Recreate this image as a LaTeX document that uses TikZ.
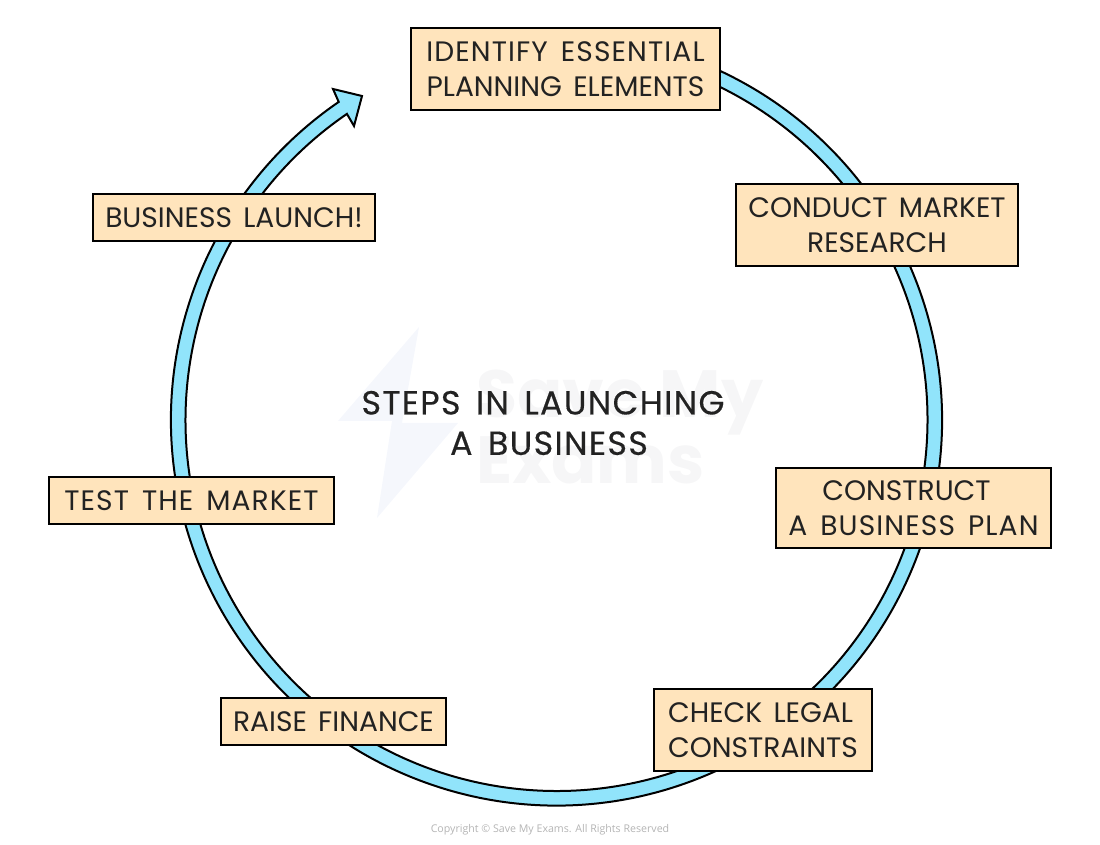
\documentclass[tikz,border=0pt]{standalone}
\usepackage{fontspec}
\setmainfont{Poppins}[WordSpace=1.5]
\newfontfamily\widefont{Poppins}[WordSpace=1.5, LetterSpace=4]
\newfontfamily\titlefont{Poppins}[WordSpace=1.5, LetterSpace=4, FakeBold=.35]
\newfontfamily\markfont{Poppins}
\newfontfamily\smallfont{Open Sans}
\definecolor{boxfill}{HTML}{FFE4BC}
\definecolor{ringblue}{HTML}{91E4FB}
\definecolor{inkdark}{HTML}{222222}
\definecolor{markgrey}{HTML}{F6F6F7}
\definecolor{markblue}{HTML}{F5F7FC}
\definecolor{copygrey}{HTML}{B4B4B4}
\tikzset{
    stepbox/.style={draw=black, fill=boxfill, line width=.032cm, inner sep=0pt, align=center,
        text=inkdark, font=\fontsize{16}{20}\selectfont},
    ringshape/.style={draw=black, fill=ringblue, line width=.04cm, line join=miter},
}
\begin{document}
\begin{tikzpicture}
    \useasboundingbox (0,0) rectangle (22,16.88);

    % faint mark behind the title
    \fill[markblue] (8.38,10.34) -- (6.76,8.46) -- (7.84,8.46) -- (7.54,6.52) -- (9.16,8.42) -- (8.04,8.42) -- cycle;
    \node[text=markgrey, font=\fontsize{38}{36}\selectfont\markfont\bfseries, align=left, anchor=west] (mark) at (9.4,8.34) {Save My\\Exams};

    \coordinate (center) at (11.13,8.48);
    \coordinate (wingtop) at (6.66,15.10);
    \coordinate (tip) at (7.24,14.96);
    \coordinate (wingbottom) at (7.08,14.36);

    \begin{scope}[shift={(center)}]
        \draw[ringshape] (70:7.71) arc[start angle=70, end angle=-235.6, radius=7.71]
            -- (wingtop) -- (tip) -- (wingbottom)
            -- (-235.6:7.42) arc[start angle=-235.6, end angle=70, radius=7.42] -- cycle;
    \end{scope}

    \node[stepbox, minimum width=6.18cm, minimum height=1.64cm] (identify) at (11.31,15.50) {{\widefont IDENTIFY ESSENTIAL}\\PLANNING ELEMENTS};
    \node[stepbox, minimum width=5.64cm, minimum height=1.64cm] (market) at (17.54,12.38) {CONDUCT MARKET\\RESEARCH};
    \node[stepbox, minimum width=5.5cm, minimum height=1.6cm] (plan) at (18.27,6.72) {CONSTRUCT\hspace*{.28cm}\\{\widefont A BUSINESS PLAN}};
    \node[stepbox, minimum width=4.36cm, minimum height=1.64cm, align=left] (legal) at (15.26,2.28) {CHECK LEGAL\\CONSTRAINTS};
    \node[stepbox, minimum width=4.5cm, minimum height=.94cm] (finance) at (6.67,2.45) {RAISE FINANCE};
    \node[stepbox, minimum width=5.7cm, minimum height=.94cm] (test) at (3.83,6.87) {{\widefont TEST THE MARKET}};
    \node[stepbox, minimum width=5.64cm, minimum height=.94cm] (launch) at (4.68,12.53) {BUSINESS LAUNCH!};

    \node[text=inkdark, align=center, font=\fontsize{19}{23}\selectfont\titlefont] (title) at (10.86,8.42) {STEPS IN LAUNCHING\\\hspace*{.24cm}A BUSINESS};
    \node[text=copygrey, font=\fontsize{6.05}{8}\smallfont] (copyright) at (11,.28) {Copyright © Save My Exams. All Rights Reserved};
\end{tikzpicture}
\end{document}
